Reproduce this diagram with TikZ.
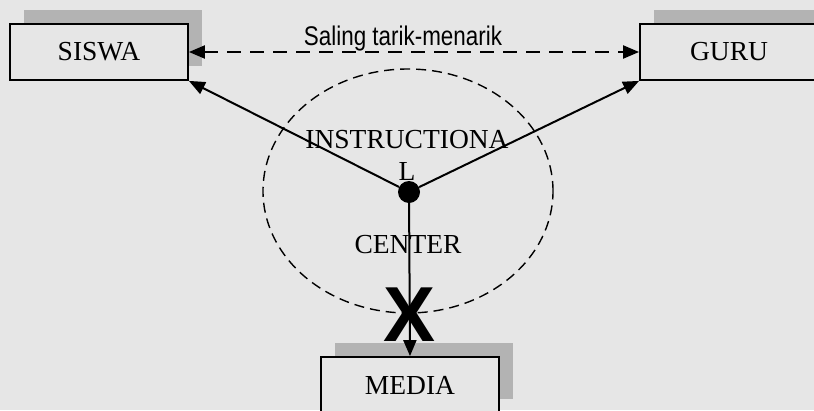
\documentclass[tikz,border=0pt]{standalone}
\usepackage{fontspec}
\setmainfont{Liberation Serif}
\newfontfamily\arialfont{Liberation Sans}
\usepackage{xcolor}
\usetikzlibrary{arrows.meta,shadows}
\definecolor{bggray}{HTML}{E6E6E6}
\definecolor{shadowgray}{HTML}{B3B3B3}

\begin{document}
\begin{tikzpicture}[
  x=1pt, y=-1pt,
  every node/.style={font=\fontsize{27.5}{32}\selectfont},
  box/.style={draw=black, line width=1.8pt, fill=bggray, inner sep=0pt,
    minimum width=178pt, minimum height=56pt,
    drop shadow={shadow xshift=14pt, shadow yshift=14pt, fill=shadowgray, opacity=1}},
  arrow/.style={-{Triangle[length=16pt,width=13pt]}, line width=2pt},
]

\useasboundingbox (0,0) rectangle (814,410);
\clip (0,0) rectangle (814,410);
\fill[bggray] (0,0) rectangle (814,410);

\draw[dash pattern=on 10pt off 6pt, line width=1.4pt] (408,191) ellipse [x radius=145pt, y radius=122pt];

\node[align=center, inner sep=0pt, anchor=north] (instr) at (407,130) {INSTRUCTIONA\\L};
\node[inner sep=0pt] (center) at (408,245) {CENTER};

\node[font=\arialfont\bfseries\fontsize{78}{80}\selectfont, inner sep=0pt] (cross) at (410,315) {X};

\node[box] (siswa) at (99,52) {SISWA};
\node[box] (guru) at (729,52) {GURU};
\node[box] (media) at (410,385) {MEDIA};

\node[circle, fill=black, minimum size=22pt, inner sep=0pt] (hub) at (409,192) {};

\node[font=\arialfont\fontsize{27}{30}\selectfont, anchor=base, inner sep=0pt] (pull) at (403,45)
  {\scalebox{0.83}[1]{Saling tarik-menarik}};

\draw[arrow, {Triangle[length=16pt,width=13pt]}-{Triangle[length=16pt,width=13pt]}, dash pattern=on 14pt off 9pt]
  (siswa.east) -- (guru.west);
\draw[arrow] (hub) -- (siswa.south east);
\draw[arrow] (hub) -- (guru.south west);
\draw[arrow] (hub) -- (media.north);

\end{tikzpicture}
\end{document}
